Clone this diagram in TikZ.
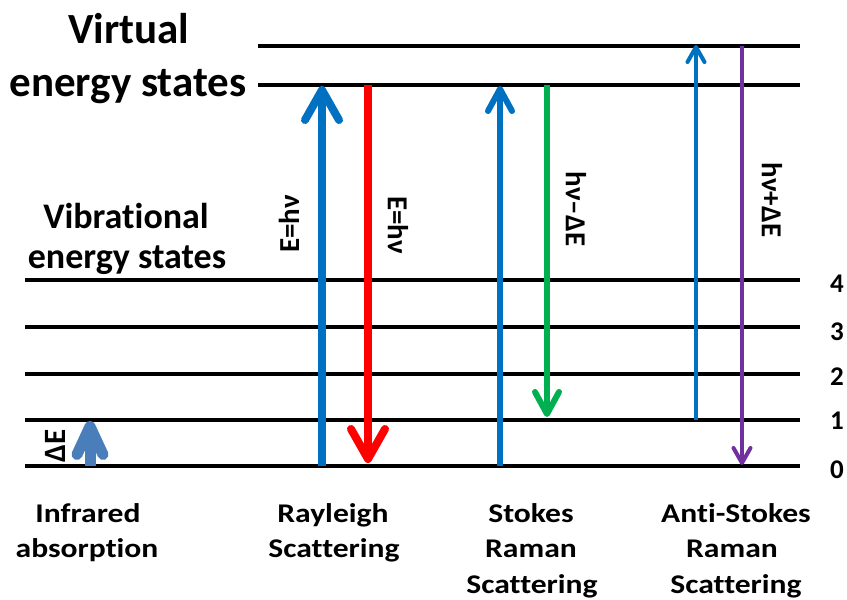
\documentclass[tikz,border=0pt]{standalone}
\usepackage{fontspec}
\setmainfont{Carlito}[Ligatures=NoCommon]
\usetikzlibrary{arrows.meta}

\definecolor{irblue}{HTML}{4A7EBB}
\definecolor{lblue}{HTML}{0070C0}
\definecolor{lred}{HTML}{FF0000}
\definecolor{lgreen}{HTML}{00B050}
\definecolor{lpurple}{HTML}{7030A0}

% captions are set a little wide
\newcommand\widetext[1]{\scalebox{1.17}[1]{#1}}

\begin{document}
\begin{tikzpicture}[x=1pt,y=-1pt,
  level/.style={line width=3.6pt, black},
  bigtitle/.style={font=\bfseries\fontsize{43}{50}\selectfont, anchor=base, inner sep=0pt},
  midtitle/.style={font=\bfseries\fontsize{36}{42}\selectfont, anchor=base, inner sep=0pt},
  caption/.style={font=\bfseries\fontsize{27}{30}\selectfont, anchor=base, inner sep=0pt},
  levelnum/.style={font=\bfseries\fontsize{27}{30}\selectfont, anchor=base, inner sep=0pt},
  translabel/.style={font=\bfseries\fontsize{29}{33}\selectfont, inner sep=0pt},
  heavy/.style={line width=8pt, -{Straight Barb[round, length=30pt, width=34pt]}},
  medium/.style={line width=6pt, -{Straight Barb[round, length=22pt, width=24pt]}},
  thin/.style={line width=4pt, -{Straight Barb[round, length=15pt, width=17pt]}},
  irarrow/.style={line width=11pt, irblue, -{Straight Barb[round, length=28pt, width=26pt]}}
]
\useasboundingbox (0,0) rectangle (847,600);

% energy levels
\draw[level] (258,46) -- (800,46);
\draw[level] (258,85) -- (800,85);
\foreach \yy/\nn in {280/4, 327/3, 374/2, 420/1, 466/0}{
  \draw[level] (25,\yy) -- (800,\yy);
}

% level numbers
\node[levelnum] (n4) at (837,292) {4};
\node[levelnum] (n3) at (837,340) {3};
\node[levelnum] (n2) at (837,385) {2};
\node[levelnum] (n1) at (837,429) {1};
\node[levelnum] (n0) at (837,478) {0};

% headings
\node[bigtitle] (virt1) at (129,43) {Virtual};
\node[bigtitle] (virt2) at (128,96) {energy states};
\node[midtitle] (vib1) at (126,228) {Vibrational};
\node[midtitle] (vib2) at (127,268) {energy states};

% captions
\node[caption] (ir1) at (88,522) {\widetext{Infrared}};
\node[caption] (ir2) at (87,557) {\widetext{absorption}};
\node[caption] (ray1) at (333,522) {\widetext{Rayleigh}};
\node[caption] (ray2) at (334,557) {\widetext{Scattering}};
\node[caption] (st1) at (531,522) {\widetext{Stokes}};
\node[caption] (st2) at (531,557) {\widetext{Raman}};
\node[caption] (st3) at (532,593) {\widetext{Scattering}};
\node[caption] (as1) at (736,522) {\widetext{Anti-Stokes}};
\node[caption] (as2) at (732,557) {\widetext{Raman}};
\node[caption] (as3) at (736,593) {\widetext{Scattering}};

% end points of the transitions
\coordinate (irA) at (90,466);   \coordinate (irB) at (90,421);
\coordinate (ryA) at (322,466);  \coordinate (ryB) at (322,86);
\coordinate (rdA) at (368,85);   \coordinate (rdB) at (368,463);
\coordinate (suA) at (500,466);  \coordinate (suB) at (500,86);
\coordinate (sdA) at (547,85);   \coordinate (sdB) at (547,417);
\coordinate (auA) at (696,420);  \coordinate (auB) at (696,45);
\coordinate (adA) at (742,46);   \coordinate (adB) at (742,465);

% transitions
\draw[irarrow] (irA) -- (irB);
\draw[heavy, lblue] (ryA) -- (ryB);
\draw[heavy, lred] (rdA) -- (rdB);
\draw[medium, lblue] (suA) -- (suB);
\draw[medium, lgreen] (sdA) -- (sdB);
\draw[thin, lblue] (auA) -- (auB);
\draw[thin, lpurple] (adA) -- (adB);

% transition labels
\node[translabel, rotate=90, font=\bfseries\fontsize{31}{35}\selectfont] (dE) at (55,446) {ΔE};
\node[translabel, rotate=90] (eh1) at (289,224) {E=hν};
\node[translabel, rotate=-90] (eh2) at (398,225) {E=hν};
\node[translabel, rotate=-90] (hm) at (576,209) {hν–ΔE};
\node[translabel, rotate=-90] (hp) at (772,200) {hν+ΔE};
\end{tikzpicture}
\end{document}
